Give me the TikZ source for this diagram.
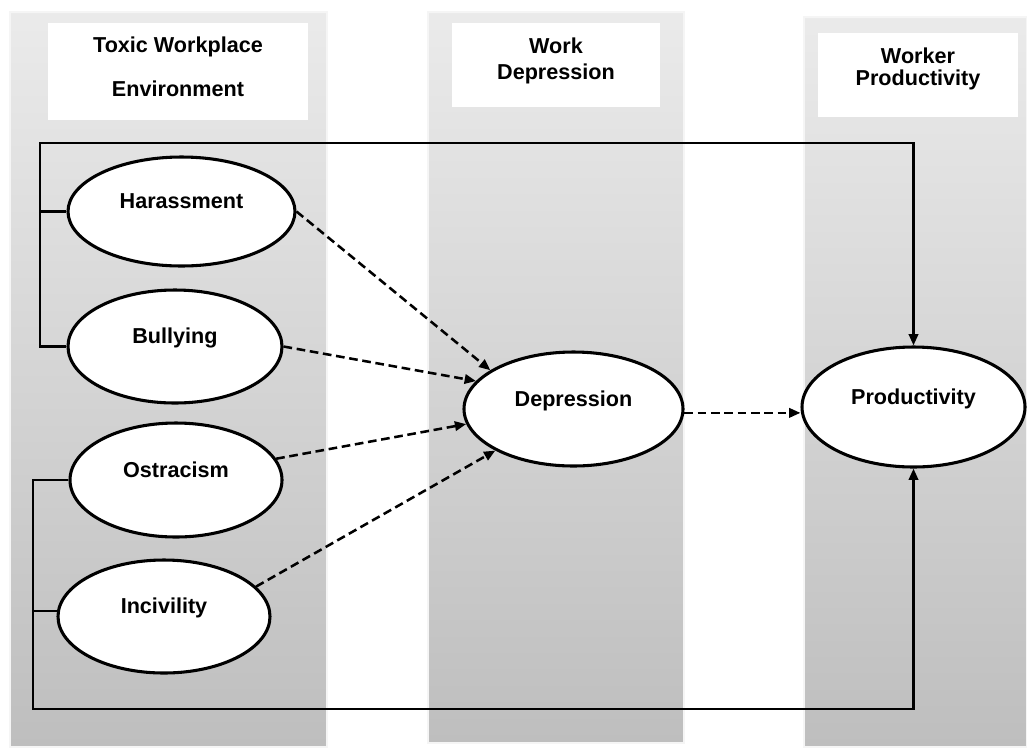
\documentclass[tikz,border=0pt]{standalone}
\usepackage{fontspec}
\setmainfont{Liberation Sans}
\usetikzlibrary{shapes.geometric,arrows.meta,calc}
\definecolor{colTop}{gray}{0.92}
\definecolor{colBot}{gray}{0.745}
\definecolor{colEdge}{gray}{0.96}
\begin{document}
\begin{tikzpicture}[x=0.75pt,y=-0.75pt,
  colband/.style={top color=colTop,bottom color=colBot,draw=colEdge,line width=0.8pt},
  hdrbox/.style={fill=white,draw=none,inner sep=0pt},
  hdrtxt/.style={anchor=base,inner sep=0pt,font=\bfseries\fontsize{16.2}{19}\selectfont},
  var/.style={ellipse,draw=black,line width=2.3pt,fill=white,inner sep=0pt,
    text height=0pt,text depth=4.5pt,font=\bfseries\fontsize{16.2}{19}\selectfont},
  conn/.style={line width=1.9pt,black},
  tip/.style={-{Triangle[length=8.5pt,width=7pt]}},
  dep/.style={conn,tip,dash pattern=on 6.5pt off 3.5pt}]
\useasboundingbox (0,0) rectangle (1027,747);
\fill[white] (0,0) rectangle (1027,747);
% column bands
\shade[colband] (10,12) rectangle (327,747);
\shade[colband] (428,12) rectangle (684,743);
\shade[colband] (804,17) rectangle (1027,747);
% header boxes
\node[hdrbox,minimum width=195pt,minimum height=72.75pt] (hb1) at (178,71.5) {};
\node[hdrbox,minimum width=156pt,minimum height=63pt] (hb2) at (556,65) {};
\node[hdrbox,minimum width=150pt,minimum height=63pt] (hb3) at (918,75) {};
\node[hdrtxt] (t1a) at (178,52) {Toxic Workplace};
\node[hdrtxt] (t1b) at (178,96) {Environment};
\node[hdrtxt] (t2a) at (556,53) {Work};
\node[hdrtxt] (t2b) at (556,79) {Depression};
\node[hdrtxt] (t3a) at (918,63) {Worker};
\node[hdrtxt] (t3b) at (918,85) {Productivity};
% variables
\node[var,minimum width=170.25pt,minimum height=81.75pt] (h) at (181.5,211.5) {Harassment};
\node[var,minimum width=160.5pt,minimum height=84.75pt] (b) at (175,346.5) {Bullying};
\node[var,minimum width=159pt,minimum height=85.5pt] (o) at (176,480) {Ostracism};
\node[var,minimum width=159pt,minimum height=84.75pt] (i) at (164,616.5) {Incivility};
\node[var,minimum width=164.25pt,minimum height=85.5pt] (d) at (573.5,409) {Depression};
\node[var,minimum width=167.25pt,minimum height=90pt] (p) at (913.5,407) {Productivity};
% direct paths
\coordinate (tl) at (40,143);
\coordinate (bl) at (33,709);
\draw[conn] (h.west) -- (h.west -| tl);
\draw[conn,tip] (b.west) -| (tl) -| (p.north);
\draw[conn] (i.177) -- (i.177 -| bl);
\draw[conn,tip] (o.west) -| (bl) -| (p.south);
% mediated paths
\draw[dep] (h.east) -- (d.155);
\draw[dep] (b.east) -- (d.164);
\draw[dep] (o.12) -- (d.188);
\draw[dep] (i.18) -- (d.208);
\draw[dep] (d.-2) -- (d.-2 -| p.west);
\end{tikzpicture}
\end{document}
